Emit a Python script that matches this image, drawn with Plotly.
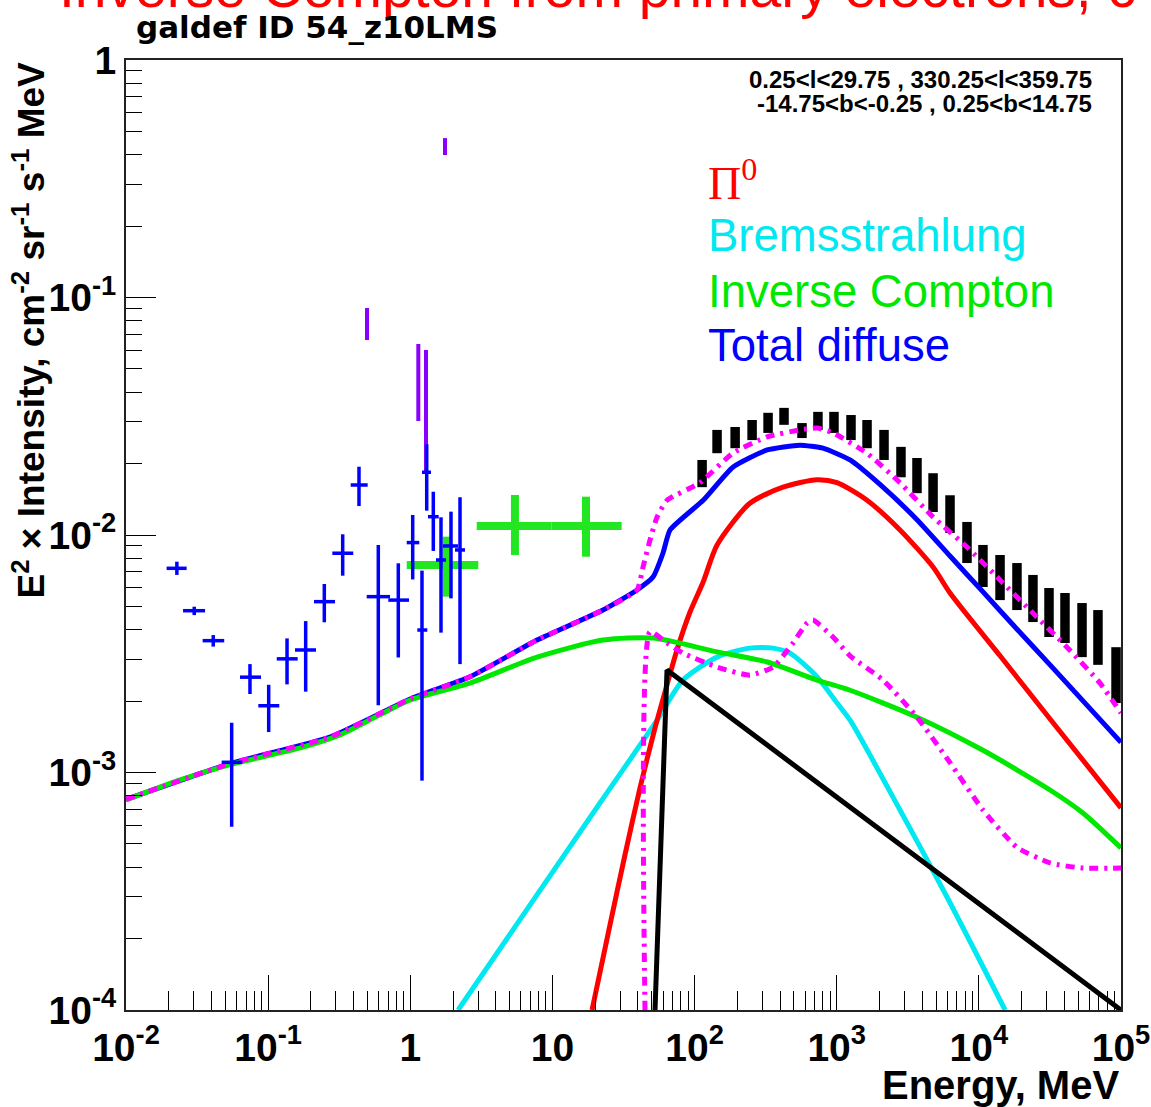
import plotly.graph_objects as go

# ---------------- model curves (E in MeV, E^2 x intensity) ----------------
ic_E = [0.01, 0.024, 0.054, 0.168, 0.32, 0.61, 1.0, 2.63, 7.8, 22.7, 51, 144, 324, 727, 1242, 3672, 10700, 31700, 54000, 1e5]
ic_F = [7.66e-4, 9.3e-4, 1.08e-3, 1.27e-3, 1.44e-3, 1.75e-3, 2.02e-3, 2.38e-3, 3.06e-3, 3.61e-3, 3.68e-3,
        3.22e-3, 2.92e-3, 2.45e-3, 2.22e-3, 1.71e-3, 1.24e-3, 8.44e-4, 6.75e-4, 4.81e-4]

total_E = [0.01, 0.054, 0.272, 1.0, 2.63, 7.8, 22.7, 39.4, 51, 60, 67.2, 115, 186, 324, 552, 801, 1242,
           2117, 3672, 6270, 10700, 18500, 31700, 1e5]
total_F = [7.7e-4, 1.09e-3, 1.41e-3, 2.04e-3, 2.53e-3, 3.61e-3, 4.83e-3, 5.87e-3, 6.65e-3, 8.4e-3, 0.0105,
           0.0140, 0.0193, 0.0228, 0.0239, 0.0232, 0.0207, 0.0159, 0.0116, 0.00816, 0.00576, 0.00402,
           0.00284, 0.00134]

maghi_E = [0.01, 0.054, 0.272, 1.0, 2.63, 7.8, 22.7, 39.4, 43.4, 48.6, 54.5, 64, 109, 186, 324, 552, 727,
           942, 1635, 2788, 4764, 8257, 14100, 24000, 41700, 71200, 1e5]
maghi_F = [7.7e-4, 1.09e-3, 1.41e-3, 2.04e-3, 2.53e-3, 3.61e-3, 4.83e-3, 5.87e-3, 7.33e-3, 9.53e-3, 0.0119,
           0.0140, 0.0166, 0.0221, 0.0259, 0.0277, 0.0282, 0.0269, 0.0221, 0.0166, 0.0119, 0.0089, 0.00647,
           0.00469, 0.00337, 0.00238, 0.00178]

pi0_E = [19.0, 25.4, 32.4, 41.3, 52.7, 64.0, 75.2, 92.9, 115, 144, 245, 419, 727, 1006, 1635, 2788, 4764,
         6270, 14100, 31700, 1e5]
pi0_F = [1e-4, 2.28e-4, 4.5e-4, 8.61e-4, 1.54e-3, 2.34e-3, 3.28e-3, 4.74e-3, 6.34e-3, 9.08e-3, 0.0136,
         0.0159, 0.0171, 0.0166, 0.0140, 0.0105, 0.00733, 0.0057, 0.0031, 0.00168, 7.1e-4]

brem_E = [2.17, 21.6, 54.5, 83, 144, 245, 357, 469, 727, 1006, 1242, 2788, 5970, 15300]
brem_F = [1e-4, 7.44e-4, 1.66e-3, 2.45e-3, 3.06e-3, 3.34e-3, 3.34e-3, 3.18e-3, 2.53e-3, 1.96e-3, 1.66e-3,
          6.95e-4, 2.99e-4, 1e-4]

blk_E = [52.7, 64.0, 1e5]
blk_F = [1e-4, 2.7e-3, 1.0e-4]

maglo_E = [44.8, 48.6, 64, 83, 144, 245, 357, 493, 618, 681, 942, 1242, 2117, 3672, 6270, 10700, 18500,
           31700, 54000, 1e5]
maglo_F = [1e-4, 3.91e-3, 3.51e-3, 3.18e-3, 2.78e-3, 2.57e-3, 2.78e-3, 3.51e-3, 4.26e-3, 4.39e-3, 3.72e-3,
           3.1e-3, 2.45e-3, 1.71e-3, 1.1e-3, 6.95e-4, 4.85e-4, 4.16e-4, 3.96e-4, 3.96e-4]

# ---------------- data ----------------
hiE_E = [113, 144, 193, 254, 329, 426, 570, 738, 957, 1261, 1635, 2153, 2833, 3672, 4764, 6270, 8257,
         10690, 14100, 18550, 24030, 31170, 40380, 53210, 68890, 92300]
hiE_lo = [0.0159, 0.0221, 0.0232, 0.0251, 0.0269, 0.0291, 0.0256, 0.0277, 0.0269, 0.0251, 0.0232, 0.0207,
          0.0175, 0.0150, 0.0125, 0.0102, 0.00762, 0.00604, 0.00532, 0.00483, 0.00430, 0.00372, 0.00351,
          0.00306, 0.00284, 0.00196]
hiE_hi = [0.0207, 0.0277, 0.0285, 0.0305, 0.0327, 0.0343, 0.0296, 0.0330, 0.0330, 0.0320, 0.0305, 0.0277,
          0.0235, 0.0211, 0.0182, 0.0147, 0.01135, 0.00908, 0.00824, 0.00762, 0.00679, 0.00598, 0.00570,
          0.00517, 0.00483, 0.00337]

lowE_E = [0.0228, 0.0302, 0.0411, 0.0554, 0.0745, 0.1009, 0.1358, 0.1837, 0.2484, 0.3346, 0.4357, 0.5957,
          0.8236, 1.040, 1.209, 1.305, 1.452, 1.645, 1.934, 2.238]
lowE_Elo = [0.0193, 0.0252, 0.0346, 0.0471, 0.0634, 0.0853, 0.1149, 0.1545, 0.2102, 0.2828, 0.3808, 0.4936,
            0.7004, 0.944, 1.121, 1.209, 1.333, 1.517, 1.699, 2.064]
lowE_Ehi = [0.0267, 0.0360, 0.0491, 0.0658, 0.0891, 0.1198, 0.1614, 0.2172, 0.2954, 0.3972, 0.5016, 0.7199,
            0.9795, 1.157, 1.318, 1.399, 1.585, 1.784, 2.166, 2.427]
lowE_F = [0.00724, 0.00480, 0.00359, 0.001104, 0.00252, 0.00191, 0.00301, 0.00328, 0.00524, 0.00838,
          0.01624, 0.0055, 0.00532, 0.00929, 0.00398, 0.01837, 0.01194, 0.00785, 0.00899, 0.00865]
lowE_Flo = [0.00679, 0.00460, 0.00339, 0.000591, 0.00214, 0.00148, 0.00235, 0.00219, 0.00429, 0.00674,
            0.01324, 0.00192, 0.00305, 0.0065, 0.000924, 0.01266, 0.00857, 0.00388, 0.00541, 0.00286]
lowE_Fhi = [0.00772, 0.00499, 0.00379, 0.00162, 0.00286, 0.00234, 0.00367, 0.00434, 0.00622, 0.01007,
            0.01939, 0.00908, 0.0076, 0.01214, 0.00708, 0.0241, 0.01521, 0.01187, 0.01254, 0.01442]

purp_E = [0.4961, 1.139, 1.290, 1.755]
purp_lo = [0.0662, 0.0302, 0.01824, 0.398]
purp_hi = [0.0903, 0.0637, 0.0601, 0.469]

gdat_E = [1.804, 5.45, 17.23]
gdat_Elo = [0.944, 2.934, 9.88]
gdat_Ehi = [3.01, 9.88, 30.7]
gdat_F = [0.00747, 0.0109, 0.0109]
gdat_Flo = [0.0055, 0.00824, 0.0081]
gdat_Fhi = [0.00984, 0.01474, 0.0145]

x_tickvals = [1e-2, 1e-1, 1, 10, 1e2, 1e3, 1e4, 1e5]
x_ticktext = ["10<sup>-2</sup>", "10<sup>-1</sup>", "1", "10", "10<sup>2</sup>", "10<sup>3</sup>",
              "10<sup>4</sup>", "10<sup>5</sup>"]
y_tickvals = [1e-4, 1e-3, 1e-2, 1e-1, 1]
y_ticktext = ["10<sup>-4</sup>", "10<sup>-3</sup>", "10<sup>-2</sup>", "10<sup>-1</sup>", "1"]

RED = "#ff0000"
CYAN = "#00e8f0"
GREEN = "#00e800"
BLUE = "#0000ff"
MAG = "#ff00ff"

fig = go.Figure()


def seg(xs, los, his):
    X, Y = [], []
    for x, a, b in zip(xs, los, his):
        X += [x, x, None]
        Y += [a, b, None]
    return X, Y


# black high-energy data bars
bx, by = seg(hiE_E, hiE_lo, hiE_hi)
fig.add_trace(go.Scatter(x=bx, y=by, mode="lines", line=dict(color="black", width=9.5)))

# model curves
fig.add_trace(go.Scatter(x=brem_E, y=brem_F, mode="lines", line=dict(color=CYAN, width=5, shape="spline", smoothing=0.7)))
fig.add_trace(go.Scatter(x=pi0_E, y=pi0_F, mode="lines", line=dict(color=RED, width=5, shape="spline", smoothing=0.7)))
fig.add_trace(go.Scatter(x=blk_E, y=blk_F, mode="lines", line=dict(color="black", width=5)))
fig.add_trace(go.Scatter(x=total_E, y=total_F, mode="lines", line=dict(color=BLUE, width=5, shape="spline", smoothing=0.5)))
fig.add_trace(go.Scatter(x=ic_E, y=ic_F, mode="lines", line=dict(color=GREEN, width=5, shape="spline", smoothing=0.7)))
fig.add_trace(go.Scatter(x=maghi_E, y=maghi_F, mode="lines",
                         line=dict(color=MAG, width=5, dash="9px,6px,3px,6px", shape="spline", smoothing=0.5)))
fig.add_trace(go.Scatter(x=maglo_E, y=maglo_F, mode="lines",
                         line=dict(color=MAG, width=5, dash="9px,6px,3px,6px", shape="spline", smoothing=0.5)))

# green data crosses
fig.add_trace(go.Scatter(
    x=gdat_E, y=gdat_F, mode="markers", marker=dict(size=1, color="#22e622"),
    error_x=dict(type="data", symmetric=False, array=[h - c for h, c in zip(gdat_Ehi, gdat_E)],
                 arrayminus=[c - l for l, c in zip(gdat_Elo, gdat_E)], width=0, thickness=8, color="#22e622"),
    error_y=dict(type="data", symmetric=False, array=[h - c for h, c in zip(gdat_Fhi, gdat_F)],
                 arrayminus=[c - l for l, c in zip(gdat_Flo, gdat_F)], width=0, thickness=8, color="#22e622"),
))

# purple bars
px_, py_ = seg(purp_E, purp_lo, purp_hi)
fig.add_trace(go.Scatter(x=px_, y=py_, mode="lines", line=dict(color="#8a00ff", width=4)))

# blue low-energy crosses
fig.add_trace(go.Scatter(
    x=lowE_E, y=lowE_F, mode="markers", marker=dict(size=1, color=BLUE),
    error_x=dict(type="data", symmetric=False, array=[h - c for h, c in zip(lowE_Ehi, lowE_E)],
                 arrayminus=[c - l for l, c in zip(lowE_Elo, lowE_E)], width=0, thickness=3.5, color=BLUE),
    error_y=dict(type="data", symmetric=False, array=[h - c for h, c in zip(lowE_Fhi, lowE_F)],
                 arrayminus=[c - l for l, c in zip(lowE_Flo, lowE_F)], width=0, thickness=3.5, color=BLUE),
))

tickfont = dict(family="Liberation Sans", size=39, color="black", weight="bold")

fig.update_xaxes(type="log", range=[-2, 5.0002], tickmode="array", tickvals=x_tickvals, ticktext=x_ticktext,
                 ticks="inside", ticklen=35, tickwidth=1, tickcolor="black", automargin=False,
                 minor=dict(ticks="inside", ticklen=19, tickwidth=1, tickcolor="black", dtick="D1", showgrid=False),
                 showgrid=False, zeroline=False, showline=True, linecolor="#222", linewidth=2, mirror=True,
                 tickfont=tickfont, ticklabelstandoff=2)
fig.update_yaxes(type="log", range=[-4, 0], tickmode="array", tickvals=y_tickvals, ticktext=y_ticktext,
                 ticks="inside", ticklen=30, tickwidth=1, tickcolor="black", automargin=False,
                 minor=dict(ticks="inside", ticklen=16, tickwidth=1, tickcolor="black", dtick="D1", showgrid=False),
                 showgrid=False, zeroline=False, showline=True, linecolor="#222", linewidth=2, mirror=True,
                 tickfont=tickfont, ticklabelstandoff=0)

ann = []
# red cut-off heading
ann.append(dict(text="Inverse Compton from primary electrons, c", xref="paper", yref="paper",
                x=(57 - 126) / 995, y=(1010 + 13) / 950, xanchor="left", yanchor="middle", showarrow=False,
                font=dict(family="Liberation Sans", size=57, color=RED)))
ann.append(dict(text="galdef ID 54_z10LMS", xref="paper", yref="paper", x=(134 - 126) / 995,
                y=(1010 - 27) / 950, xanchor="left", yanchor="middle", showarrow=False,
                font=dict(family="DejaVu Sans", size=31, color="black", weight="bold")))
ann.append(dict(text="0.25<l<29.75 , 330.25<l<359.75", xref="paper", yref="paper", x=(1094 - 126) / 995,
                y=(1010 - 79) / 950, xanchor="right", yanchor="middle", showarrow=False,
                font=dict(family="Liberation Sans", size=24, color="black", weight="bold")))
ann.append(dict(text="-14.75<b<-0.25 , 0.25<b<14.75", xref="paper", yref="paper", x=(1094 - 126) / 995,
                y=(1010 - 104) / 950, xanchor="right", yanchor="middle", showarrow=False,
                font=dict(family="Liberation Sans", size=24, color="black", weight="bold")))
# legend texts
ann.append(dict(text="Π<sup>0</sup>", xref="paper", yref="paper", x=(706 - 126) / 995, y=(1010 - 180) / 950,
                xanchor="left", yanchor="middle", showarrow=False,
                font=dict(family="Liberation Serif", size=46, color=RED)))
for txt, col, yy in [("Bremsstrahlung", CYAN, 235), ("Inverse Compton", GREEN, 291), ("Total diffuse", BLUE, 345)]:
    ann.append(dict(text=txt, xref="paper", yref="paper", x=(706 - 126) / 995, y=(1010 - yy) / 950,
                    xanchor="left", yanchor="middle", showarrow=False,
                    font=dict(family="Liberation Sans", size=45.5, color=col)))
# axis titles
ann.append(dict(text="Energy, MeV", xref="paper", yref="paper", x=1.0, y=(1010 - 1085) / 950,
                xanchor="right", yanchor="middle", showarrow=False,
                font=dict(family="Liberation Sans", size=40, color="black", weight="bold")))
ann.append(dict(text="E<sup>2</sup> × Intensity, cm<sup>-2</sup> sr<sup>-1</sup> s<sup>-1</sup> MeV",
                xref="paper", yref="paper", x=(29 - 126) / 995, y=1.0, xanchor="center", yanchor="top",
                textangle=-90, showarrow=False,
                font=dict(family="Liberation Sans", size=37, color="black", weight="bold")))

fig.update_layout(width=1151, height=1107, margin=dict(l=126, r=30, t=60, b=97, autoexpand=False),
                  plot_bgcolor="white", paper_bgcolor="white", showlegend=False, annotations=ann)

fig.write_html("out.html")
